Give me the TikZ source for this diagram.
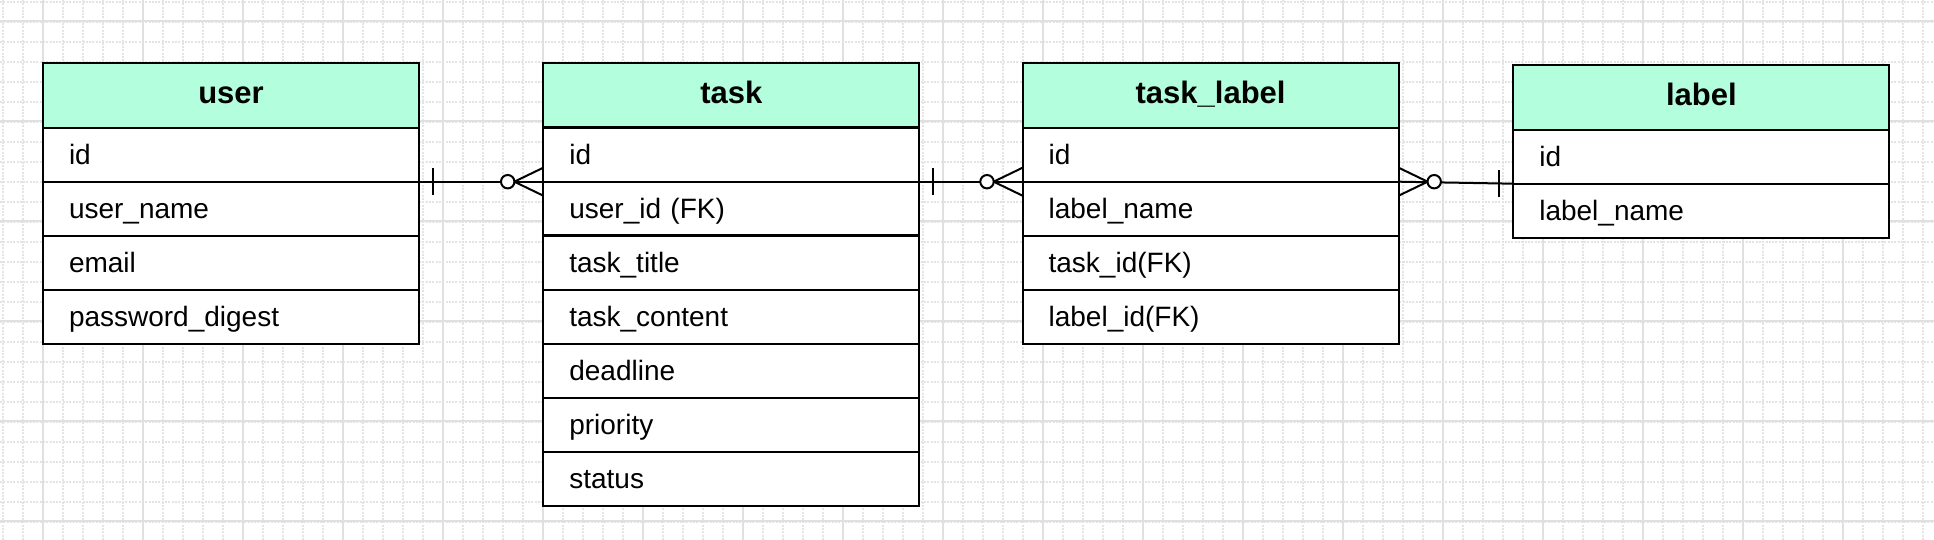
\documentclass[tikz,border=0pt]{standalone}
\usepackage{fontspec}
\setmainfont{Liberation Sans}
\usetikzlibrary{positioning}

\definecolor{mint}{RGB}{179,255,221}
\definecolor{gridmajor}{RGB}{224,224,224}
\definecolor{gridminor}{RGB}{228,228,228}

\newcommand{\fieldfont}{\fontsize{28}{34}\selectfont}
\newcommand{\headfont}{\fontsize{31}{37}\selectfont\bfseries}

\begin{document}
\begin{tikzpicture}[
    x=1pt, y=-1pt,
    entity/.style={draw, line width=2pt, fill=mint, anchor=north west,
                   minimum width=376pt, minimum height=65pt, inner sep=0pt,
                   outer sep=0pt, font=\headfont, text height=20pt, text depth=3pt},
    field/.style={draw, line width=2pt, fill=white, below=0pt of #1,
                  minimum height=54pt, text width=324pt, inner xsep=26pt,
                  inner ysep=0pt, outer sep=0pt, align=left, font=\fieldfont,
                  text height=22pt, text depth=2pt},
    heavy/.style={line width=3.5pt},
    rel/.style={line width=2pt},
    minorline/.style={gridminor, line width=2pt, dash pattern=on 2pt off 1.3pt},
    majorline/.style={gridmajor, line width=2pt},
    onebar/.pic={\draw[rel] (0,-13.5) -- (0,13.5);},
    zeromany/.pic={\draw[rel] (-29,0) -- (0,-14) (-29,0) -- (0,14);
                   \draw[rel, fill=white] (-35.6,0) circle[radius=6.7pt];}
]
    % background grid
    \useasboundingbox (0,0) rectangle (1934,540);
    \fill[white] (0,0) rectangle (1934,540);
    \foreach \gx in {0,...,96}
        \draw[minorline] (3+20*\gx,0) -- (3+20*\gx,540);
    \foreach \gy in {0,...,26}
        \draw[minorline] (0,1.7+20*\gy) -- (1934,1.7+20*\gy);
    \foreach \gx in {0,...,18}
        \draw[majorline] (43+100*\gx,0) -- (43+100*\gx,540);
    \foreach \gy in {0,...,5}
        \draw[majorline] (0,21+100*\gy) -- (1934,21+100*\gy);

    % user
    \node[entity] (user) at (43,62.7) {user};
    \node[field=user] (user-id) {id};
    \node[field=user-id] (user-name) {user\_name};
    \node[field=user-name] (user-email) {email};
    \node[field=user-email] (user-pw) {password\_digest};

    % task
    \node[entity] (task) at (543.3,62.7) {task};
    \node[field=task] (task-id) {id};
    \node[field=task-id] (task-uid) {user\_id (FK)};
    \node[field=task-uid] (task-title) {task\_title};
    \node[field=task-title] (task-content) {task\_content};
    \node[field=task-content] (task-deadline) {deadline};
    \node[field=task-deadline] (task-priority) {priority};
    \node[field=task-priority] (task-status) {status};
    \draw[heavy] (task-id.north west) -- (task-id.north east);
    \draw[heavy] (task-uid.south west) -- (task-uid.south east);

    % task_label
    \node[entity] (tl) at (1022.6,62.7) {task\_label};
    \node[field=tl] (tl-id) {id};
    \node[field=tl-id] (tl-name) {label\_name};
    \node[field=tl-name] (tl-task) {task\_id(FK)};
    \node[field=tl-task] (tl-label) {label\_id(FK)};

    % label
    \node[entity] (label) at (1513.3,64.7) {label};
    \node[field=label] (label-id) {id};
    \node[field=label-id] (label-name) {label\_name};

    % relations
    \draw[rel] (user-id.south east) -- (task-id.south west);
    \path ([xshift=14pt]user-id.south east) pic {onebar};
    \path (task-id.south west) pic {zeromany};

    \draw[rel] (task-id.south east) -- (tl-id.south west);
    \path ([xshift=14pt]task-id.south east) pic {onebar};
    \path (tl-id.south west) pic {zeromany};

    \draw[rel] (tl-id.south east) -- (label-id.south west);
    \path (tl-id.south east) pic[xscale=-1] {zeromany};
    \path ([xshift=-14pt]label-id.south west) pic {onebar};
\end{tikzpicture}
\end{document}
